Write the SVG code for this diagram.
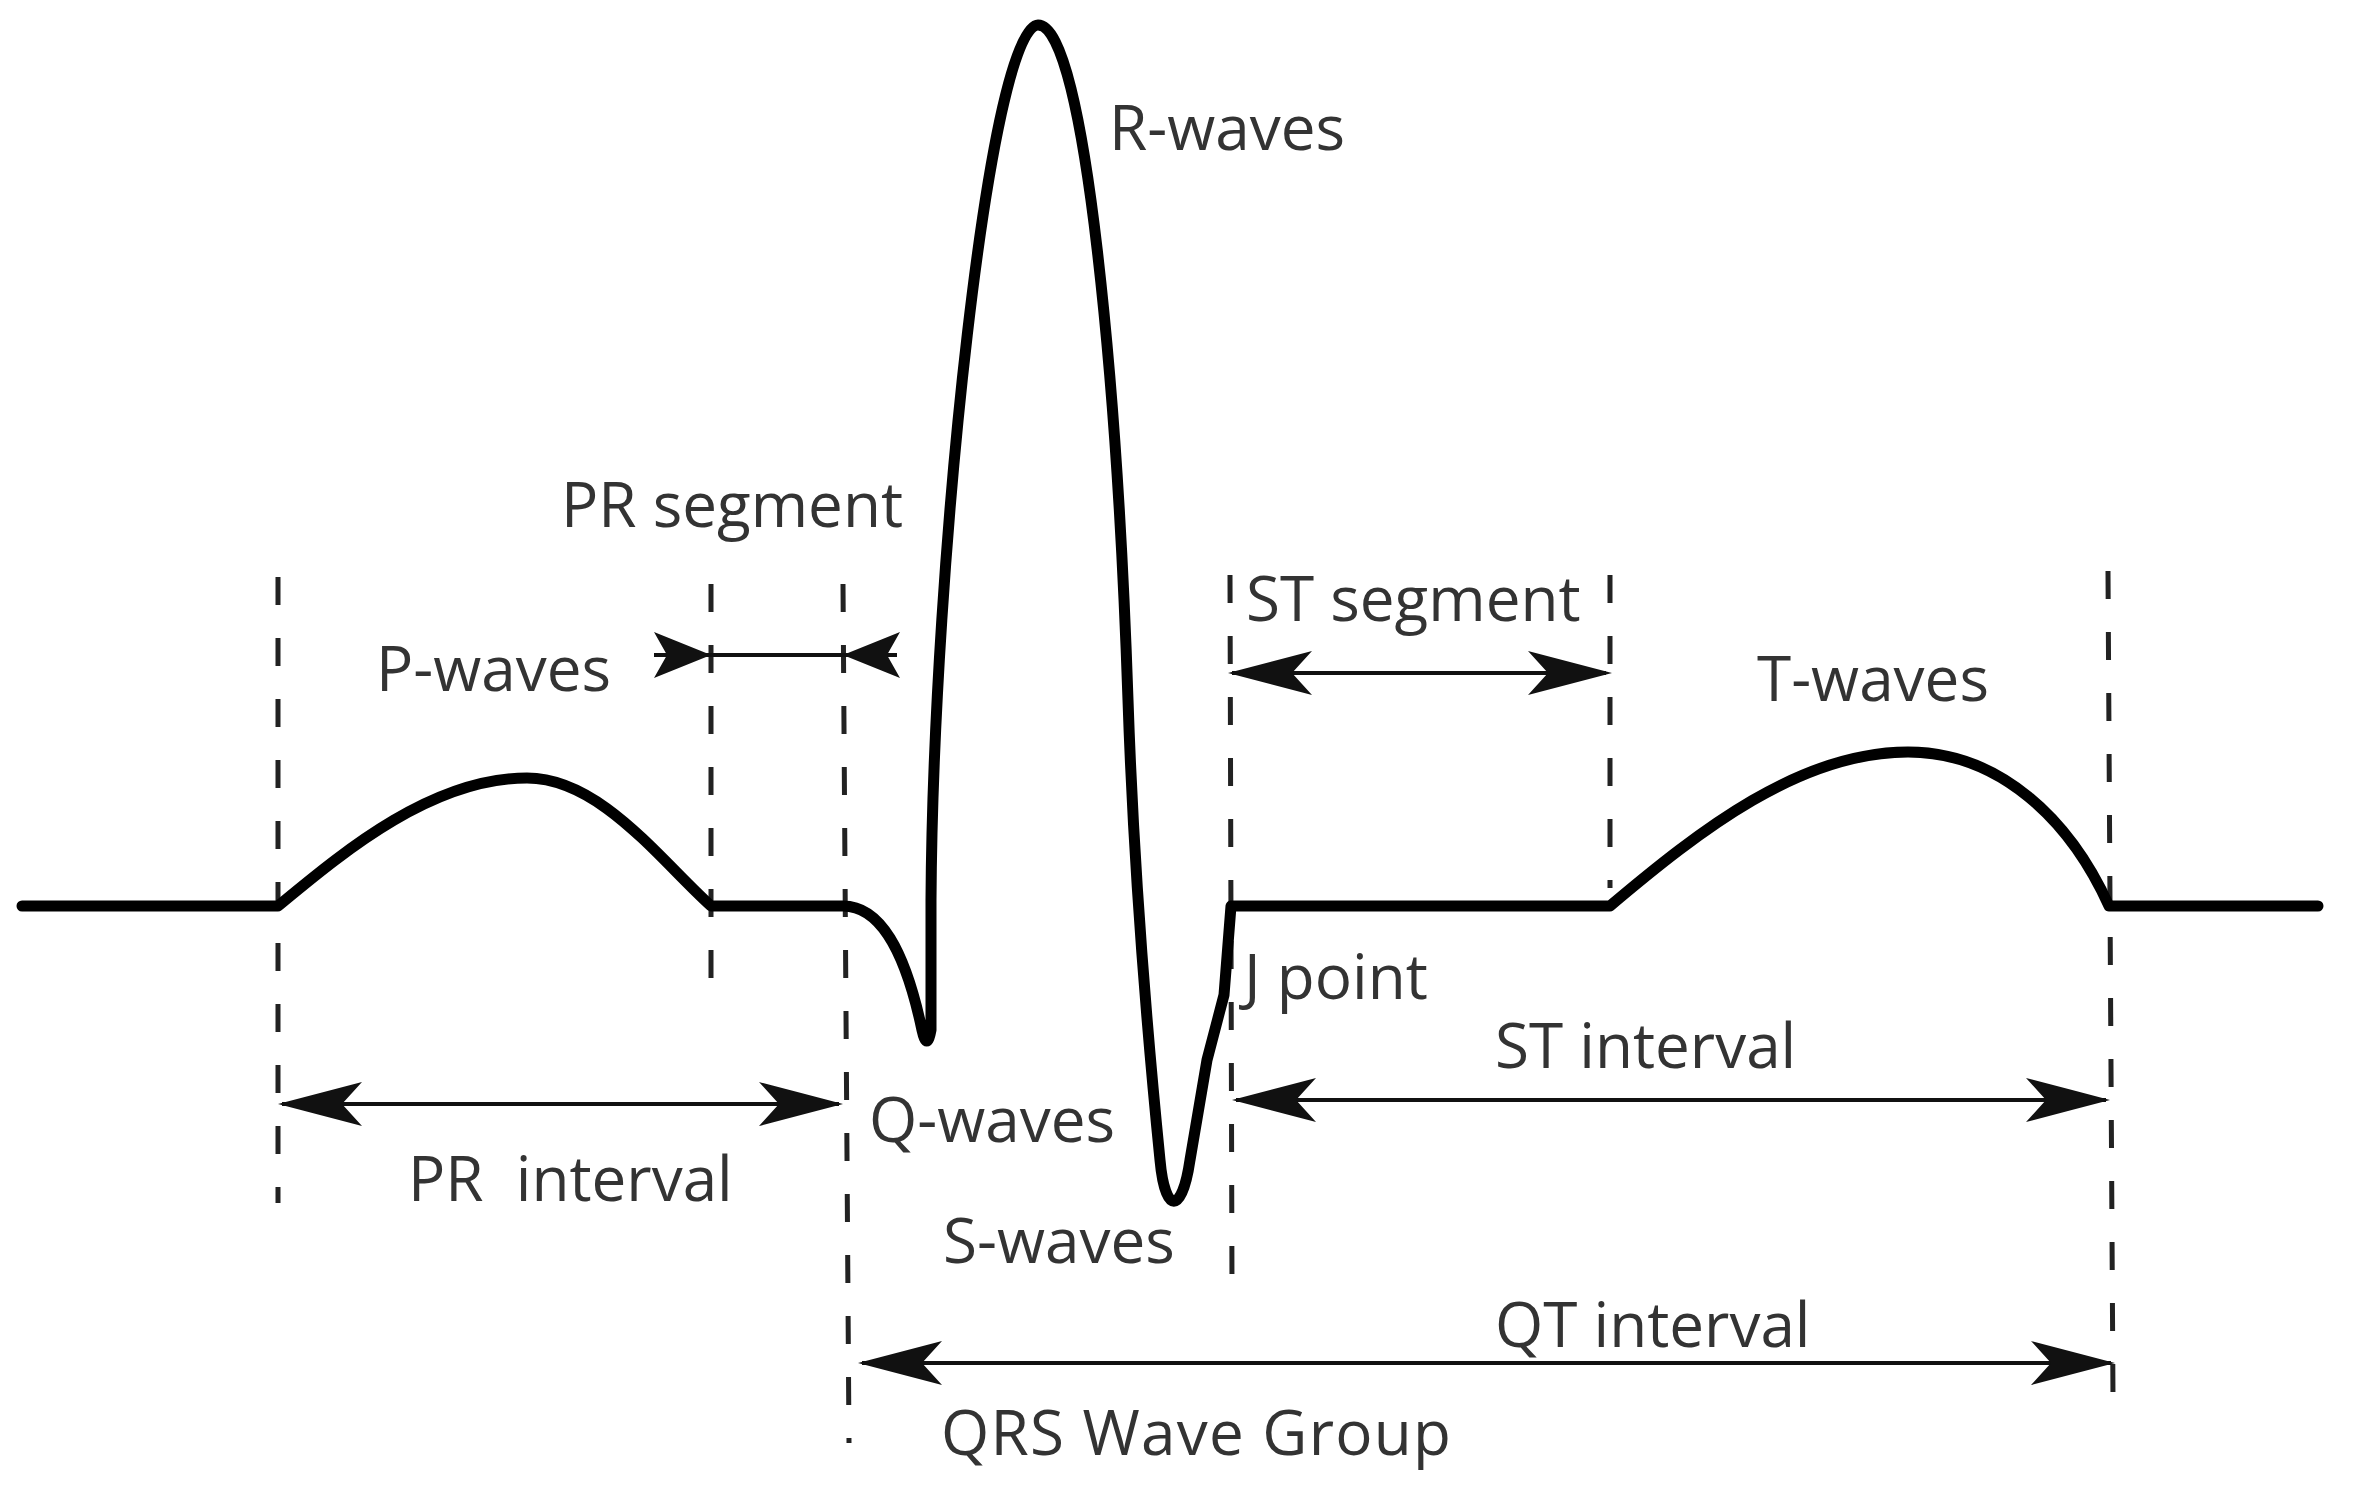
<svg xmlns="http://www.w3.org/2000/svg" xmlns:xlink="http://www.w3.org/1999/xlink" width="2357" height="1492" viewBox="0 0 2357 1492">
  <style>
    .wave { fill: none; stroke: #000; stroke-width: 11; stroke-linejoin: round; stroke-linecap: round; }
    .guide { fill: none; stroke: #222; stroke-width: 5; stroke-dasharray: 28 33; }
    .conn { fill: none; stroke: #111; stroke-width: 4; }
    .head { fill: #111; stroke: none; }
    .lbl { font-family: "Open Sans", "Noto Sans", "DejaVu Sans", sans-serif; font-size: 62px; fill: #333; white-space: pre; }
  </style>
  <defs>
    <path id="bighead" class="head" d="M0,0 Q-42,-11 -84,-22 L-64,0 L-84,22 Q-42,11 0,0 Z"/>
    <path id="smallhead" class="head" d="M0,0 L-57,-23 L-44,0 L-57,23 Z"/>
  </defs>
  <rect width="2357" height="1492" fill="#fff"/>

  <g id="guides">
    <line class="guide" x1="278" y1="577" x2="278" y2="1203"/>
    <line class="guide" x1="711" y1="584" x2="711" y2="1006"/>
    <line class="guide" x1="843" y1="584" x2="849" y2="1443"/>
    <line class="guide" x1="1230" y1="575" x2="1232" y2="1292"/>
    <line class="guide" x1="1610" y1="575" x2="1610" y2="888"/>
    <line class="guide" x1="2108" y1="571" x2="2113" y2="1398"/>
  </g>

  <g id="ecg-wave">
    <path class="wave" d="M22,906 L278,906 C340,855 430,778 527,778 C600,778 660,860 711,906 L843,906 C880,906 905,950 922,1030 Q927,1052 931,1030 L931,900 C933,560 990,25 1038,25 C1086,25 1118,400 1128,700 C1134,880 1150,1060 1160,1160 C1165,1215 1182,1215 1190,1160 L1207,1060 L1224,995 L1231,906 L1610,906 C1700,830 1800,752 1908,752 C2000,752 2070,820 2109,906 L2318,906"/>
  </g>

  <g id="connectors">
    <g id="pr-segment">
      <line class="conn" x1="654" y1="655" x2="897" y2="655"/>
      <use xlink:href="#smallhead" href="#smallhead" transform="translate(711,655)"/>
      <use xlink:href="#smallhead" href="#smallhead" transform="translate(843,655) rotate(180)"/>
    </g>
    <g id="pr-interval">
      <line class="conn" x1="282" y1="1104" x2="839" y2="1104"/>
      <use xlink:href="#bighead" href="#bighead" transform="translate(278,1104) rotate(180)"/>
      <use xlink:href="#bighead" href="#bighead" transform="translate(843,1104)"/>
    </g>
    <g id="st-segment">
      <line class="conn" x1="1232" y1="673" x2="1606" y2="673"/>
      <use xlink:href="#bighead" href="#bighead" transform="translate(1228,673) rotate(180)"/>
      <use xlink:href="#bighead" href="#bighead" transform="translate(1612,673)"/>
    </g>
    <g id="st-interval">
      <line class="conn" x1="1236" y1="1100" x2="2106" y2="1100"/>
      <use xlink:href="#bighead" href="#bighead" transform="translate(1232,1100) rotate(180)"/>
      <use xlink:href="#bighead" href="#bighead" transform="translate(2110,1100)"/>
    </g>
    <g id="qt-interval">
      <line class="conn" x1="862" y1="1363" x2="2111" y2="1363"/>
      <use xlink:href="#bighead" href="#bighead" transform="translate(858,1363) rotate(180)"/>
      <use xlink:href="#bighead" href="#bighead" transform="translate(2115,1363)"/>
    </g>
  </g>

  <g id="labels">
    <g id="label-r"><text class="lbl" x="1109" y="150">R-waves</text></g>
    <g id="label-pr-segment"><text class="lbl" x="561" y="527">PR segment</text></g>
    <g id="label-p"><text class="lbl" x="376" y="691">P-waves</text></g>
    <g id="label-st-segment"><text class="lbl" x="1246" y="621">ST segment</text></g>
    <g id="label-t"><text class="lbl" x="1757" y="701">T-waves</text></g>
    <g id="label-j"><text class="lbl" x="1244" y="999">J point</text></g>
    <g id="label-st-interval"><text class="lbl" x="1495" y="1068">ST interval</text></g>
    <g id="label-q"><text class="lbl" x="869" y="1142">Q-waves</text></g>
    <g id="label-pr-interval"><text class="lbl" x="408" y="1201" xml:space="preserve">PR  interval</text></g>
    <g id="label-s"><text class="lbl" x="943" y="1263">S-waves</text></g>
    <g id="label-qt-interval"><text class="lbl" x="1495" y="1347">QT interval</text></g>
    <g id="label-qrs"><text class="lbl" x="941" y="1455" textLength="510" lengthAdjust="spacing">QRS Wave Group</text></g>
  </g>
</svg>
